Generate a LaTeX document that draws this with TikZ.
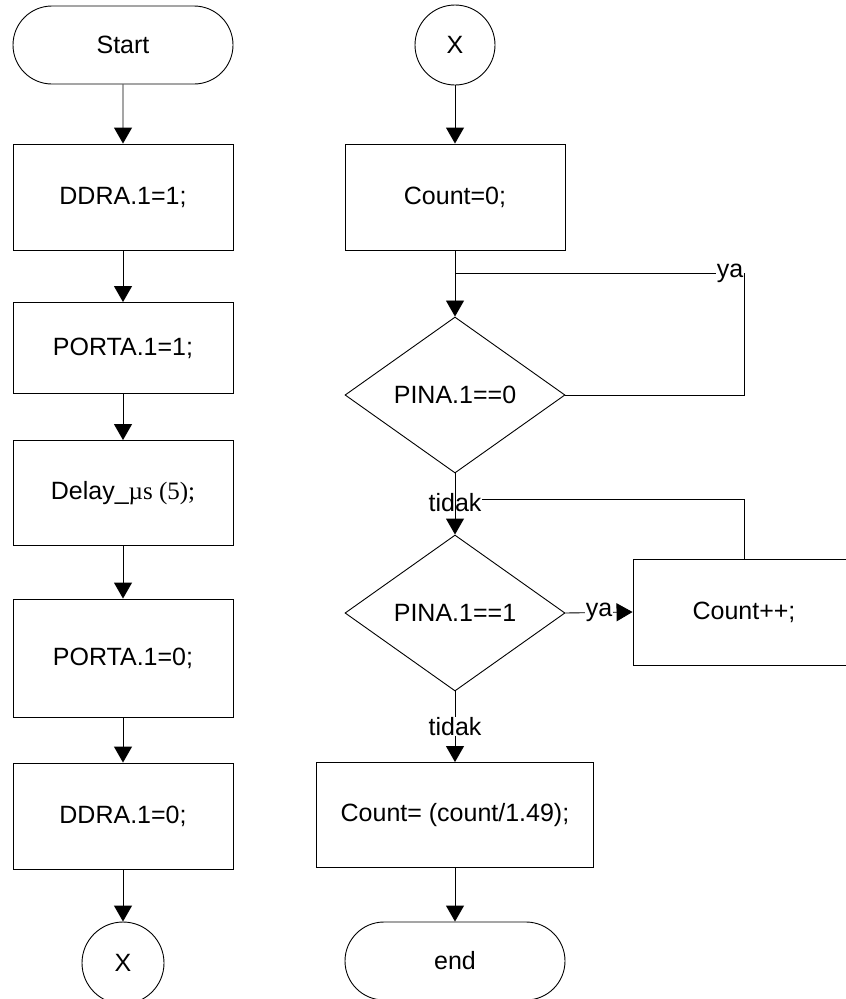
\documentclass[tikz,border=0pt]{standalone}
\usepackage{fontspec}
\setmainfont{Liberation Sans}
\newfontfamily\timesfont{Liberation Serif}
\usetikzlibrary{arrows.meta,shapes.geometric,shapes.misc}

\begin{document}
\begin{tikzpicture}[x=1pt,y=-1pt,
    every node/.style={font=\fontsize{25}{29}\selectfont},
    terminal/.style={draw,line width=0.9pt,rounded rectangle,minimum width=220pt,minimum height=78pt,inner sep=0pt},
    connector/.style={draw,line width=0.9pt,circle,minimum size=80pt,inner sep=0pt},
    process/.style={draw,line width=0.9pt,rectangle,minimum width=220pt,minimum height=106pt,inner sep=0pt},
    decision/.style={draw,line width=0.9pt,diamond,minimum width=220pt,minimum height=156pt,inner sep=0pt},
    flowline/.style={line width=0.9pt},
    flow/.style={line width=0.9pt,-{Triangle[length=16pt,width=18pt]}},
    lbl/.style={fill=white,inner sep=0.5pt}]
  \useasboundingbox (0,0) rectangle (846,999);

  % left column
  \node[terminal] (start) at (123,45) {Start};
  \node[process] (ddra1) at (123,197) {DDRA.1=1;};
  \node[process,minimum height=91pt] (porta1) at (123,348) {PORTA.1=1;};
  \node[process,minimum height=105pt] (delay) at (123,493) {Delay\_{\timesfont µs (5);}};
  \node[process,minimum height=118pt] (porta0) at (123,658) {PORTA.1=0;};
  \node[process] (ddra0) at (123,816) {DDRA.1=0;};
  \node[connector,minimum size=82pt] (xout) at (123,963) {X};

  \draw[flow] (start) -- (ddra1);
  \draw[flow] (ddra1) -- (porta1);
  \draw[flow] (porta1) -- (delay);
  \draw[flow] (delay) -- (porta0);
  \draw[flow] (porta0) -- (ddra0);
  \draw[flow] (ddra0) -- (xout);

  % right column
  \node[connector] (xin) at (455,45) {X};
  \node[process] (cnt0) at (455,197) {Count=0;};
  \node[decision] (pin0) at (455,395) {PINA.1==0};
  \node[decision] (pin1) at (455,613) {PINA.1==1};
  \node[process,minimum width=222pt] (cntinc) at (744,612) {Count++;};
  \node[process,minimum width=277pt,minimum height=105pt] (cntdiv) at (455,815) {Count= (count/1.49);};
  \node[terminal] (finish) at (455,961) {end};

  \coordinate (loopa) at (744,273);
  \coordinate (joina) at (455,273);
  \coordinate (joinb) at (455,499);

  \draw[flow] (xin) -- (cnt0);
  \draw[flow] (cnt0) -- (pin0);
  \draw[flowline] (pin0.east) -| (loopa) -- (joina);
  \node[lbl,anchor=east] (yaa) at (loopa) {ya};
  \draw[flowline] (cntinc.north) |- (joinb);
  \node[lbl] (tidaka) at (455,503) {tidak};
  \draw[flow] (pin0.south) -- (pin1.north);
  \draw[flow] (pin1.east) -- node[lbl] (yab) {ya} (cntinc.west);
  \draw[flow] (pin1.south) -- node[lbl] (tidakb) {tidak} (cntdiv.north);
  \draw[flow] (cntdiv) -- (finish);
\end{tikzpicture}
\end{document}
